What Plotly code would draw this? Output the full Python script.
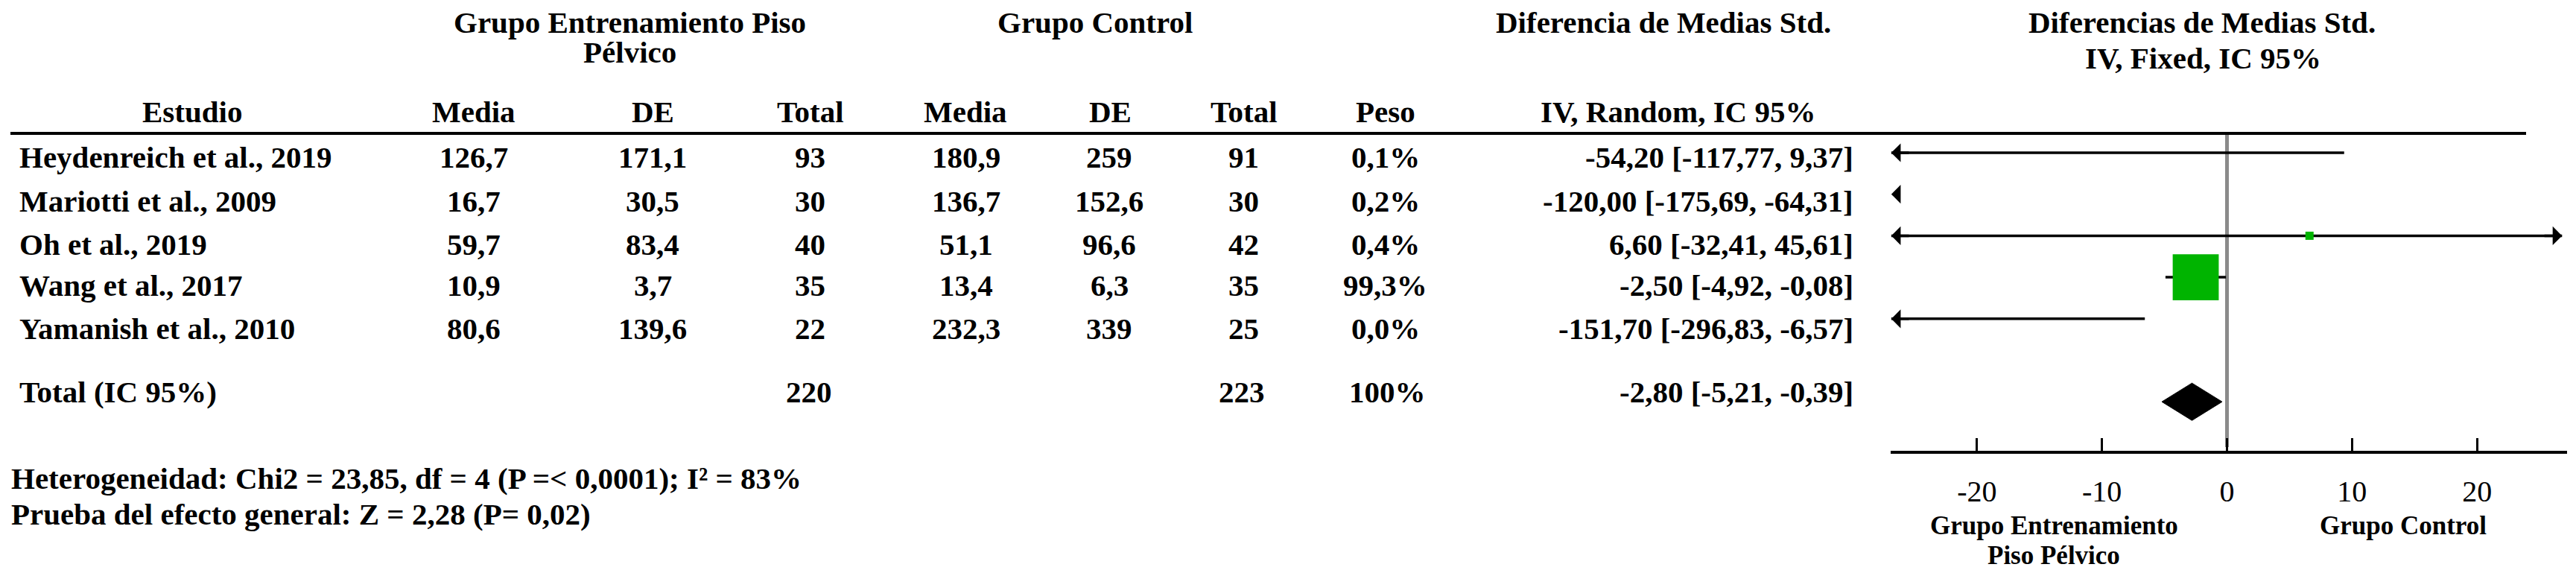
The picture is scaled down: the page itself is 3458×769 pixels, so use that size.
import math
import plotly.graph_objects as go

W, H = 3458, 769

# ---------------- data ----------------
studies = ["Heydenreich et al., 2019", "Mariotti et al., 2009", "Oh et al., 2019",
           "Wang et al., 2017", "Yamanish et al., 2010"]
exp_mean = [126.7, 16.7, 59.7, 10.9, 80.6]
exp_sd = [171.1, 30.5, 83.4, 3.7, 139.6]
exp_n = [93, 30, 40, 35, 22]
ctl_mean = [180.9, 136.7, 51.1, 13.4, 232.3]
ctl_sd = [259, 152.6, 96.6, 6.3, 339]
ctl_n = [91, 30, 42, 35, 25]
weight = [0.1, 0.2, 0.4, 99.3, 0.0]
smd = [-54.20, -120.00, 6.60, -2.50, -151.70]
ci_lo = [-117.77, -175.69, -32.41, -4.92, -296.83]
ci_hi = [9.37, -64.31, 45.61, -0.08, -6.57]

total_label = "Total (IC 95%)"
total_exp_n = 220
total_ctl_n = 223
total_weight = 100
pooled_smd = -2.80
pooled_lo = -5.21
pooled_hi = -0.39

tick_values = [-20, -10, 0, 10, 20]
heterogeneity = "Heterogeneidad: Chi2 = 23,85, df = 4 (P =< 0,0001); I² = 83%"
overall = "Prueba del efecto general: Z = 2,28 (P= 0,02)"

# ---------------- layout constants ----------------
FONT = "Liberation Serif"
FS = 41
X_RANGE = [-26.9, 27.2]
TIP_L, TIP_R = -26.85, 26.8
ROW0_PX, ROW_STEP_PX = 205, 55.7
TOTAL_ROW = 6
TEXT_ROWS_PX = [211, 270, 328, 383, 441]
TEXT_TOTAL_PX = 526


def px(x):
    return x / W


def py(y):
    return 1 - y / H


def dec(v):
    return str(v).replace(".", ",")


def f2(v):
    return f"{v:.2f}".replace(".", ",")


fig = go.Figure()

# --- confidence interval lines (clipped to axis) ---
lx, ly = [], []
arrows = []
for i in range(len(studies)):
    lo, hi = ci_lo[i], ci_hi[i]
    if hi < X_RANGE[0]:
        arrows.append((TIP_L, TIP_L + 0.8, i))
        continue
    a = max(lo, TIP_L)
    b = min(hi, TIP_R)
    lx += [a, b, None]
    ly += [i, i, None]
    if lo < TIP_L:
        arrows.append((TIP_L, TIP_L + 1.5, i))
    if hi > TIP_R:
        arrows.append((TIP_R, TIP_R - 1.5, i))

fig.add_trace(go.Scatter(x=lx, y=ly, mode="lines",
                         line=dict(color="black", width=3.5),
                         hoverinfo="skip", showlegend=False))

# --- study squares (only those inside range) ---
sq_x, sq_y, sq_s = [], [], []
for i in range(len(studies)):
    if X_RANGE[0] <= smd[i] <= X_RANGE[1]:
        sq_x.append(smd[i])
        sq_y.append(i)
        sq_s.append(max(11, 6.2 * math.sqrt(weight[i])))
fig.add_trace(go.Scatter(x=sq_x, y=sq_y, mode="markers",
                         marker=dict(symbol="square", size=sq_s, color="#00b400",
                                     opacity=1, line=dict(width=0)),
                         opacity=1, hoverinfo="skip", showlegend=False))

# --- pooled diamond ---
dh = 0.45
fig.add_trace(go.Scatter(
    x=[pooled_lo, pooled_smd, pooled_hi, pooled_smd, pooled_lo],
    y=[TOTAL_ROW, TOTAL_ROW - dh, TOTAL_ROW, TOTAL_ROW + dh, TOTAL_ROW],
    mode="lines", fill="toself", fillcolor="black",
    line=dict(color="black", width=1), hoverinfo="skip", showlegend=False))

annotations = []
for tip, tail, row in arrows:
    annotations.append(dict(x=tip, y=row, ax=tail, ay=row, xref="x", yref="y",
                            axref="x", ayref="y", showarrow=True, arrowhead=1,
                            arrowsize=1.2, arrowwidth=3.5, arrowcolor="black",
                            text=""))


def txt(x, y, s, anchor="center", size=FS):
    annotations.append(dict(x=px(x), y=py(y), xref="paper", yref="paper",
                            text=s, showarrow=False, xanchor=anchor,
                            yanchor="middle",
                            font=dict(family=FONT, size=size, color="black")))


B = lambda s: f"<b>{s}</b>"

# headers
txt(845, 30, B("Grupo Entrenamiento Piso"))
txt(845, 70, B("Pélvico"))
txt(1470, 30, B("Grupo Control"))
txt(2233, 30, B("Diferencia de Medias Std."))
txt(2956, 30, B("Diferencias de Medias Std."))
txt(2957, 78, B("IV, Fixed, IC 95%"))

HDR_Y = 150
txt(258, HDR_Y, B("Estudio"))
txt(636, HDR_Y, B("Media"))
txt(876, HDR_Y, B("DE"))
txt(1088, HDR_Y, B("Total"))
txt(1296, HDR_Y, B("Media"))
txt(1490, HDR_Y, B("DE"))
txt(1670, HDR_Y, B("Total"))
txt(1860, HDR_Y, B("Peso"))
txt(2252, HDR_Y, B("IV, Random, IC 95%"))

for i, name in enumerate(studies):
    y = TEXT_ROWS_PX[i]
    txt(24, y, B(name), "left")
    txt(636, y, B(dec(exp_mean[i])))
    txt(876, y, B(dec(exp_sd[i])))
    txt(1087, y, B(exp_n[i]))
    txt(1297, y, B(dec(ctl_mean[i])))
    txt(1489, y, B(dec(ctl_sd[i])))
    txt(1669, y, B(ctl_n[i]))
    txt(1860, y, B(f"{weight[i]:.1f}%".replace(".", ",")))
    txt(2490, y, B(f"{f2(smd[i])} [{f2(ci_lo[i])}, {f2(ci_hi[i])}]"), "right")

y = TEXT_TOTAL_PX
txt(24, y, B(total_label), "left")
txt(1086, y, B(total_exp_n))
txt(1667, y, B(total_ctl_n))
txt(1862, y, B(f"{total_weight}%"))
txt(2490, y, B(f"{f2(pooled_smd)} [{f2(pooled_lo)}, {f2(pooled_hi)}]"), "right")

txt(13, 642, B(heterogeneity), "left")
txt(13, 690, B(overall), "left")

txt(2757, 705, B("Grupo Entrenamiento"), size=35)
txt(2757, 745, B("Piso Pélvico"), size=35)
txt(3226, 705, B("Grupo Control"), size=35)

shapes = [
    dict(type="line", xref="paper", yref="paper", x0=px(14), x1=px(3391),
         y0=py(179), y1=py(179), line=dict(color="black", width=4)),
    dict(type="line", xref="x", yref="paper", x0=0, x1=0,
         y0=py(600), y1=py(181), line=dict(color="#8a8a8a", width=5),
         layer="below"),
]

y_top = -ROW0_PX / ROW_STEP_PX
y_bot = (H - ROW0_PX) / ROW_STEP_PX

fig.update_layout(
    width=W, height=H, autosize=False,
    margin=dict(l=0, r=0, t=0, b=0, pad=0),
    paper_bgcolor="white", plot_bgcolor="white",
    showlegend=False,
    annotations=annotations, shapes=shapes,
    xaxis=dict(domain=[px(2538), px(3446)], range=X_RANGE, showgrid=False,
               zeroline=False, showline=True, linecolor="black", linewidth=4,
               ticks="inside", ticklen=17, tickwidth=2.5, tickcolor="black",
               tickvals=tick_values, ticktext=[str(t) for t in tick_values],
               tickfont=dict(family=FONT, size=40, color="black"),
               anchor="free", position=py(607), ticklabelstandoff=16,
               fixedrange=True),
    yaxis=dict(domain=[0, 1], range=[y_bot, y_top], visible=False,
               fixedrange=True),
)

fig.write_html("out.html",
               config={"displayModeBar": False},
               post_script="document.body.style.margin='0px';"
                           "document.body.style.overflow='hidden';")
